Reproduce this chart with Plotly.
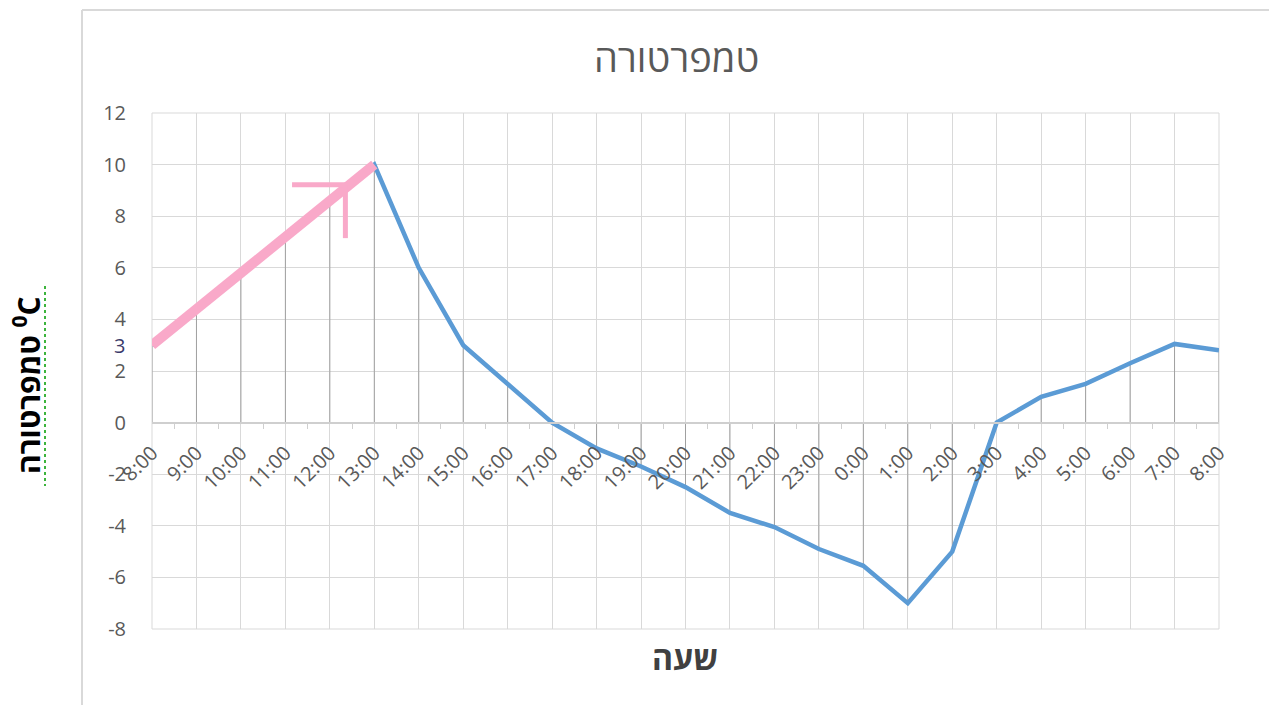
import plotly.graph_objects as go

# ---- data ----
hours = ["8:00", "9:00", "10:00", "11:00", "12:00", "13:00", "14:00", "15:00",
         "16:00", "17:00", "18:00", "19:00", "20:00", "21:00", "22:00", "23:00",
         "0:00", "1:00", "2:00", "3:00", "4:00", "5:00", "6:00", "7:00", "8:00"]
temps = [3, 4.4, 5.8, 7.3, 8.6, 10, 6, 3, 1.5, 0, -1, -1.7, -2.5, -3.5, -4.05,
         -4.9, -5.55, -7, -5, 0, 1, 1.5, 2.3, 3.05, 2.8]
y_ticks = [-8, -6, -4, -2, 0, 2, 4, 6, 8, 10, 12]
y_tick_text = ["-8", "-6", "-4", "-2", "0", "2", "4", "6", "8", "10", "12"]
extra_y_label = 3
title_text = "טמפרטורה"
x_title = "שעה"
y_title = "טמפרטורה \u200e<sup>0</sup>C"

# ---- layout constants (pixels) ----
W, H = 1269, 705
L, R, T, B = 152, 1219, 113, 629
plot_w, plot_h = R - L, B - T
y_min, y_max = -8, 12
FONT = "Open Sans, Noto Sans, sans-serif"

def px_x(p):
    return (p - L) / plot_w

def px_y(p):
    return (B - p) / plot_h

xs = list(range(len(hours)))

fig = go.Figure()

# drop lines from each point to the category axis (y = 0)
dx, dy = [], []
for xi, yi in zip(xs, temps):
    dx += [xi, xi, None]
    dy += [0, yi, None]
fig.add_trace(go.Scatter(x=dx, y=dy, mode="lines",
                         line=dict(color="#a0a0a0", width=1),
                         hoverinfo="skip", showlegend=False))

# main series
fig.add_trace(go.Scatter(x=xs, y=temps, mode="lines",
                         line=dict(color="#5B9BD5", width=4.5),
                         showlegend=False))

# pink hand-drawn highlight over the rising part
fig.add_trace(go.Scatter(x=[xs[0], xs[5]], y=[temps[0], temps[5]], mode="lines",
                         line=dict(color="#F9A9C9", width=10),
                         hoverinfo="skip", showlegend=False))

grid = "#d9d9d9"
shapes = []
# hand-drawn strokes near the highlight
shapes.append(dict(type="line", xref="x", yref="y", x0=3.15, x1=4.4, y0=9.22, y1=9.22,
                   line=dict(color="#F9A9C9", width=5)))
shapes.append(dict(type="line", xref="x", yref="y", x0=4.35, x1=4.35, y0=9.22, y1=7.15,
                   line=dict(color="#F9A9C9", width=5)))
# plot-area border
shapes.append(dict(type="rect", xref="paper", yref="paper", x0=0, x1=1, y0=0, y1=1,
                   line=dict(color=grid, width=1), layer="below"))
# chart-area border (left and top)
shapes.append(dict(type="line", xref="paper", yref="paper",
                   x0=px_x(82), x1=px_x(82), y0=px_y(10), y1=px_y(H),
                   line=dict(color="#d9d9d9", width=2)))
shapes.append(dict(type="line", xref="paper", yref="paper",
                   x0=px_x(82), x1=px_x(W), y0=px_y(10), y1=px_y(10),
                   line=dict(color="#d9d9d9", width=2)))
# spell-check squiggle under the y title
shapes.append(dict(type="line", xref="paper", yref="paper",
                   x0=px_x(45), x1=px_x(45), y0=px_y(286), y1=px_y(486),
                   line=dict(color="#3cb43c", width=2, dash="dot")))

annotations = [
    dict(text=title_text, xref="paper", yref="paper", x=px_x(676), y=px_y(57),
         xanchor="center", yanchor="middle", showarrow=False,
         font=dict(family=FONT, size=38, color="#595959")),
    dict(text=x_title, xref="paper", yref="paper", x=px_x(685), y=px_y(657),
         xanchor="center", yanchor="middle", showarrow=False,
         font=dict(family=FONT, size=32, color="#404040", weight="bold")),
    dict(text=y_title, xref="paper", yref="paper", x=px_x(27), y=px_y(385),
         xanchor="center", yanchor="middle", showarrow=False, textangle=-90,
         font=dict(family=FONT, size=30, color="#000000", weight="bold")),
    dict(text=str(extra_y_label), xref="paper", yref="y", x=0, y=extra_y_label,
         xanchor="right", yanchor="middle", xshift=-25, showarrow=False,
         font=dict(family=FONT, size=20, color="#3a3a6a")),
]

fig.update_layout(
    width=W, height=H,
    margin=dict(l=L, r=W - R, t=T, b=H - B, pad=0),
    paper_bgcolor="white", plot_bgcolor="white",
    shapes=shapes, annotations=annotations,
    font=dict(family=FONT, color="#595959"),
    xaxis=dict(
        range=[0, len(hours) - 1],
        tickmode="array", tickvals=xs, ticktext=hours, tickangle=-45,
        tickfont=dict(size=20, color="#595959"),
        showgrid=True, gridcolor=grid, gridwidth=1,
        zeroline=False,
        showline=True, linecolor="#cfcfcf", linewidth=1.5,
        ticks="", anchor="free",
        position=(0 - y_min) / (y_max - y_min),
        ticklabelstandoff=10,
        minor=dict(tickvals=[i + 0.5 for i in xs[:-1]], ticks="outside",
                   ticklen=6, tickcolor="#cfcfcf", showgrid=False),
        fixedrange=True,
    ),
    yaxis=dict(
        range=[y_min, y_max], domain=[0, 1],
        tickmode="array", tickvals=y_ticks, ticktext=y_tick_text,
        tickfont=dict(size=20, color="#595959"),
        showgrid=True, gridcolor=grid, gridwidth=1,
        zeroline=False, showline=False, ticks="",
        ticklabelstandoff=25,
        fixedrange=True,
    ),
)

fig.write_html("out.html", config={"displayModeBar": False},
               post_script="document.body.style.margin='0';")
